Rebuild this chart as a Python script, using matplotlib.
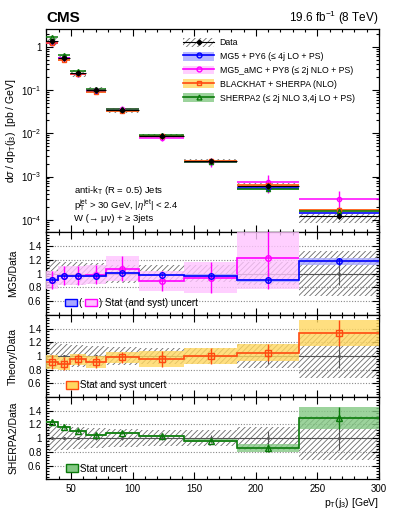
import numpy as np
import matplotlib
matplotlib.use("Agg")
import matplotlib.pyplot as plt
from matplotlib.patches import Patch, Rectangle
from matplotlib.lines import Line2D
from matplotlib.ticker import MultipleLocator, FixedLocator, LogLocator, NullFormatter, FuncFormatter

plt.rcParams['font.family'] = ['Liberation Sans', 'DejaVu Sans']
plt.rcParams['mathtext.fontset'] = 'custom'
plt.rcParams['mathtext.rm'] = 'Liberation Sans'
plt.rcParams['mathtext.it'] = 'Liberation Sans:italic'
plt.rcParams['hatch.linewidth'] = 0.6

# bin edges in pT(j3) [GeV]
edges = [30, 39, 49, 62, 78, 105, 142, 185, 235, 300]

# measured cross section [pb/GeV] and relative uncertainties
data_xsec = [1.38, 0.565, 0.245, 0.100, 0.034, 0.0088, 0.00229, 6.1e-4, 1.22e-4]
data_tot_unc = [0.19, 0.17, 0.16, 0.15, 0.13, 0.12, 0.12, 0.17, 0.32]
data_stat_unc = [0.01, 0.01, 0.015, 0.02, 0.02, 0.03, 0.05, 0.11, 0.17]

# theory / data ratios and their relative uncertainties
mg5_ratio = [0.913, 0.96, 0.97, 0.96, 1.01, 0.985, 0.97, 0.90, 1.18]
mg5_unc = [0.02, 0.015, 0.015, 0.015, 0.015, 0.015, 0.02, 0.02, 0.05]
amc_ratio = [0.91, 0.97, 0.97, 0.985, 1.07, 0.89, 0.94, 1.22, 2.46]
amc_unc = [0.13, 0.135, 0.14, 0.14, 0.18, 0.145, 0.22, 0.45, 0.5]
bh_ratio = [0.91, 0.89, 0.95, 0.91, 0.985, 0.96, 1.0, 1.05, 1.34]
bh_unc = [0.1, 0.1, 0.08, 0.09, 0.08, 0.12, 0.12, 0.12, 0.19]
sh2_ratio = [1.23, 1.16, 1.10, 1.05, 1.07, 1.03, 0.965, 0.86, 1.295]
sh2_unc = [0.015, 0.015, 0.015, 0.015, 0.015, 0.015, 0.02, 0.06, 0.16]

edges = np.array(edges, dtype=float)
lo, hi = edges[:-1], edges[1:]
centers = 0.5 * (lo + hi)
widths = hi - lo
data = np.array(data_xsec)

# name, ratio, unc, line colour, band colour, marker, band drawn in main panel
models = [
    ("MG5 + PY6 (\u2264 4j LO + PS)", mg5_ratio, mg5_unc, "#0000ff", "#a8a8ff", "o", True),
    ("MG5_aMC + PY8 (\u2264 2j NLO + PS)", amc_ratio, amc_unc, "#ff00ff", "#ffc4ff", "o", False),
    ("BLACKHAT + SHERPA (NLO)", bh_ratio, bh_unc, "#ff4a10", "#ffd760", "s", True),
    ("SHERPA2 (\u2264 2j NLO 3,4j LO + PS)", sh2_ratio, sh2_unc, "#0a7a0a", "#84c884", "^", True),
]

fig = plt.figure(figsize=(3.99, 5.16), dpi=100)
L, W = 0.1165, 0.8333
ax0 = fig.add_axes([L, 0.5504, W, 0.3928])
ax1 = fig.add_axes([L, 0.3895, W, 0.1609])
ax2 = fig.add_axes([L, 0.2306, W, 0.1589])
ax3 = fig.add_axes([L, 0.0711, W, 0.1595])

hatch_col = "#6a6a6a"

# ---- main panel ----
ax0.set_yscale("log")
ax0.bar(lo, data * 2 * np.array(data_tot_unc), bottom=data * (1 - np.array(data_tot_unc)),
        width=widths, align="edge", fill=False, hatch="//////", edgecolor=hatch_col, linewidth=0, zorder=1)
for name, r, u, c, bc, m, band in models:
    pred = data * np.array(r)
    u = np.array(u)
    if band:
        bu = np.minimum(u, 0.06)
        ax0.bar(lo, pred * 2 * bu, bottom=pred * (1 - bu), width=widths, align="edge",
                color=bc, alpha=0.8, linewidth=0, zorder=2)
    ax0.hlines(pred, lo, hi, color=c, lw=1.1, zorder=3)
    ax0.errorbar(centers, pred, yerr=pred * u, fmt=m, ms=3, mfc="none", mec=c,
                 ecolor=c, elinewidth=1.0, capsize=0, zorder=4)
ax0.hlines(data, lo, hi, color="k", lw=0.8, zorder=5)
ax0.errorbar(centers, data, yerr=data * np.array(data_stat_unc), fmt="D", ms=2.5,
             color="k", elinewidth=0.8, capsize=0, zorder=6)

ax0.set_ylim(5.2e-5, 2.55)
ax0.yaxis.set_major_locator(LogLocator(base=10, numticks=10))
ax0.yaxis.set_minor_locator(LogLocator(base=10, subs=np.arange(2, 10), numticks=20))
ax0.yaxis.set_minor_formatter(NullFormatter())


def log_fmt(v, pos):
    e = int(round(np.log10(v)))
    if e == 0:
        return "1"
    return r"$\mathregular{10^{%d}}$" % e


ax0.yaxis.set_major_formatter(FuncFormatter(log_fmt))
ax0.set_ylabel(r"d$\sigma$ / dp$_\mathregular{T}$(j$_\mathregular{3}$)  [pb / GeV]", fontsize=7.5)

handles = [(Patch(facecolor="white", edgecolor=hatch_col, hatch="//////", lw=0),
            Line2D([], [], color="k", marker="D", ms=2.5, lw=0.8))]
labels = ["Data"]
for name, r, u, c, bc, m, band in models:
    handles.append((Patch(facecolor=bc, alpha=0.8, lw=0),
                    Line2D([], [], color=c, marker=m, ms=3.5, mfc="none", lw=1.2)))
    labels.append(name)
ax0.legend(handles, labels, loc="upper left", bbox_to_anchor=(0.40, 0.975), frameon=False,
           fontsize=6.3, handlelength=3.6, handleheight=1.2, labelspacing=0.5,
           handletextpad=0.6, borderaxespad=0)

ax0.text(0.083, 0.203, r"anti-k$_\mathregular{T}$ (R = 0.5) Jets", transform=ax0.transAxes,
         fontsize=6.8, va="center")
ax0.text(0.083, 0.133, r"p$_\mathregular{T}^\mathregular{jet}$ > 30 GeV, |$\eta^\mathregular{jet}$| < 2.4",
         transform=ax0.transAxes, fontsize=6.8, va="center")
ax0.text(0.083, 0.066, "W (\u2192 \u03bc\u03bd) + \u2265 3jets", transform=ax0.transAxes,
         fontsize=6.8, va="center")

fig.text(L, 0.965, "CMS", fontsize=11, fontweight="bold", ha="left", va="center")
fig.text(L + W, 0.965, r"19.6 fb$^\mathregular{-1}$ (8 TeV)", fontsize=8.5, ha="right", va="center")

# ---- ratio panels ----
def ratio_base(ax):
    u = np.array(data_tot_unc)
    ax.bar(lo, 2 * u, bottom=1 - u, width=widths, align="edge", fill=False, hatch="//////",
           edgecolor=hatch_col, linewidth=0, zorder=1)
    for yv in [0.6, 0.8, 1.2, 1.4]:
        ax.axhline(yv, color="#888888", lw=0.8, ls=(0, (1, 1.5)), zorder=0)
    ax.axhline(1.0, color="#555555", lw=0.8, zorder=1.5)
    ax.errorbar(centers, np.ones(len(centers)), yerr=data_stat_unc, fmt="o", ms=1.2,
                color="#555555", elinewidth=0.8, capsize=0, zorder=2)
    ax.set_ylim(0.4, 1.6)
    ax.yaxis.set_major_locator(FixedLocator([0.6, 0.8, 1.0, 1.2, 1.4]))
    ax.yaxis.set_major_formatter(FuncFormatter(lambda v, p: "%g" % v))
    ax.yaxis.set_minor_locator(MultipleLocator(0.04))


def draw_ratio(ax, r, u, c, bc, m, z=3):
    r = np.array(r)
    u = np.array(u)
    # keep only the bins that fall inside the panel range
    n = len(r)
    for i, v in enumerate(r):
        if v > 1.6:
            n = i
            break
    ax.stairs(r[:n] + u[:n], edges[:n + 1], baseline=r[:n] - u[:n], fill=True,
              color=bc, alpha=0.8, lw=0, zorder=z)
    ax.stairs(r[:n], edges[:n + 1], baseline=None, color=c, lw=1.2, zorder=z + 1)
    ax.errorbar(centers[:n], r[:n], yerr=u[:n], fmt=m, ms=4, mfc="none", mec=c, ecolor=c,
                elinewidth=1.0, capsize=0, zorder=z + 2)


for ax in [ax1, ax2, ax3]:
    ratio_base(ax)

name, r, u, c, bc, m, band = models[1]
draw_ratio(ax1, r, u, c, bc, m, z=3)
name, r, u, c, bc, m, band = models[0]
draw_ratio(ax1, r, u, c, bc, m, z=6)
name, r, u, c, bc, m, band = models[2]
draw_ratio(ax2, r, u, c, bc, m)
name, r, u, c, bc, m, band = models[3]
draw_ratio(ax3, r, u, c, bc, m)

ax1.set_ylabel("MG5/Data", fontsize=7.5)
ax2.set_ylabel("Theory/Data", fontsize=7.5)
ax3.set_ylabel("SHERPA2/Data", fontsize=7.5)
for ax in [ax0, ax1, ax2, ax3]:
    ax.yaxis.set_label_coords(-0.085, 0.5)

# in-panel legends
ax1.add_patch(Rectangle((0.056, 0.11), 0.036, 0.085, transform=ax1.transAxes,
                        facecolor="#a8a8ff", edgecolor="#0000ff", lw=1.0, zorder=10))
ax1.text(0.097, 0.15, "(", transform=ax1.transAxes, fontsize=7, va="center", zorder=10)
ax1.add_patch(Rectangle((0.116, 0.11), 0.036, 0.085, transform=ax1.transAxes,
                        facecolor="#ffc4ff", edgecolor="#ff00ff", lw=1.0, zorder=10))
ax1.text(0.158, 0.15, ") Stat (and syst) uncert", transform=ax1.transAxes, fontsize=7,
         va="center", zorder=10)
ax2.add_patch(Rectangle((0.058, 0.10), 0.036, 0.09, transform=ax2.transAxes,
                        facecolor="#ffd760", edgecolor="#ff4a10", lw=1.0, zorder=10))
ax2.text(0.101, 0.145, "Stat and syst uncert", transform=ax2.transAxes, fontsize=7,
         va="center", zorder=10)
ax3.add_patch(Rectangle((0.058, 0.085), 0.036, 0.095, transform=ax3.transAxes,
                        facecolor="#84c884", edgecolor="#0a7a0a", lw=1.0, zorder=10))
ax3.text(0.101, 0.13, "Stat uncert", transform=ax3.transAxes, fontsize=7,
         va="center", zorder=10)

for ax in [ax0, ax1, ax2, ax3]:
    ax.set_xlim(30, 300)
    ax.xaxis.set_major_locator(MultipleLocator(50))
    ax.xaxis.set_minor_locator(MultipleLocator(10))
    ax.tick_params(which="both", direction="in", top=True, right=True, labelsize=7, width=0.8)
    ax.tick_params(which="major", length=5)
    ax.tick_params(which="minor", length=2.5)
    for s in ax.spines.values():
        s.set_linewidth(0.9)
    if ax is not ax3:
        ax.tick_params(labelbottom=False)

ax3.set_xlabel(r"p$_\mathregular{T}$(j$_\mathregular{3}$) [GeV]", fontsize=7.5, loc="right", labelpad=1)

fig.savefig("out.png", dpi=100)
